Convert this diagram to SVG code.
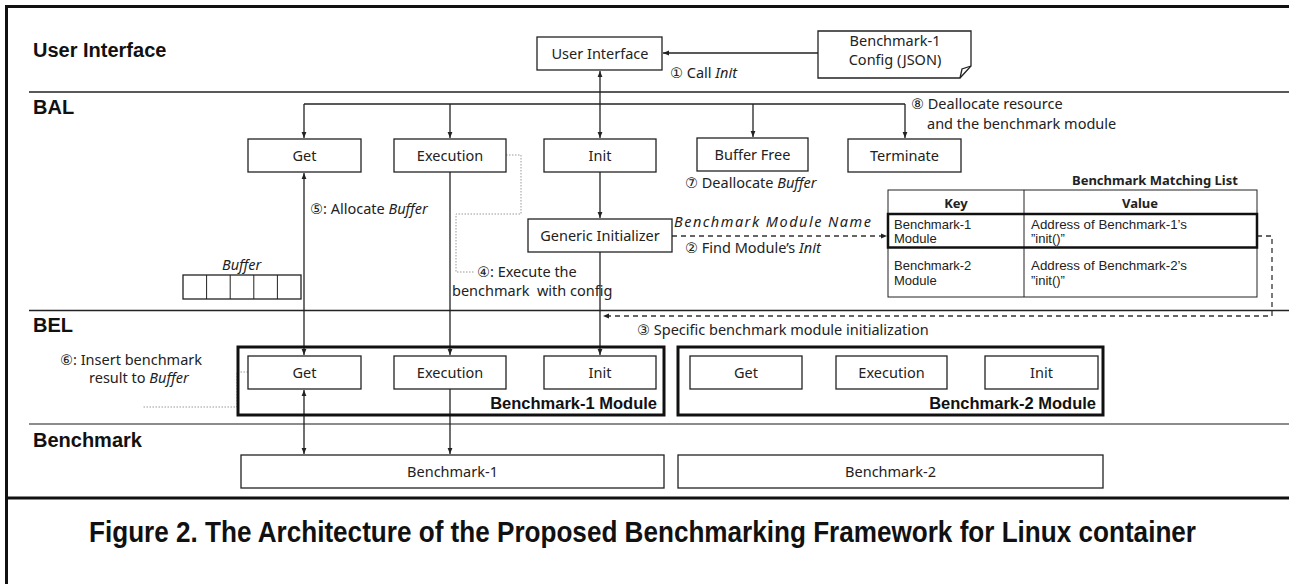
<svg xmlns="http://www.w3.org/2000/svg" width="1289" height="584" viewBox="0 0 1289 584">
<style>
.box{fill:#fff;stroke:#222;stroke-width:1.3}
.mod{fill:none;stroke:#111;stroke-width:3}
.t{font-family:'Noto Sans','DejaVu Sans',sans-serif;font-size:14.5px;fill:#222}
.s{font-size:13px}
.tb{font-family:'Liberation Sans',Arial,sans-serif;font-size:13px;fill:#222}
.c{text-anchor:middle}
.i{font-style:italic}
.b{font-weight:bold}
.sec{font-family:'Liberation Sans',Arial,sans-serif;font-weight:bold;font-size:20px;fill:#111}
.mt{font-family:'Liberation Sans',Arial,sans-serif;font-weight:bold;font-size:16.5px;fill:#111;text-anchor:end}
.conn{fill:none;stroke:#222;stroke-width:1.3}
.dash{fill:none;stroke:#333;stroke-width:1.3;stroke-dasharray:5 4}
.dot{fill:none;stroke:#999;stroke-width:1;stroke-dasharray:1.5 1.5}
.sep{stroke:#222;stroke-width:1.3}
</style>
<defs>
<marker id="ah" viewBox="0 0 10 10" refX="10" refY="5" markerWidth="6" markerHeight="6" markerUnits="userSpaceOnUse" orient="auto-start-reverse"><path d="M0,1 L10,5 L0,9 Z" fill="#222"/></marker>
</defs>
<rect x="0" y="0" width="1289" height="584" fill="#fff"/>
<g id="frame">
<line x1="6.5" y1="5" x2="6.5" y2="584" stroke="#111" stroke-width="3"/>
<line x1="5" y1="6.5" x2="1289" y2="6.5" stroke="#111" stroke-width="3"/>
<line x1="5" y1="498" x2="1289" y2="498" stroke="#111" stroke-width="3"/>
<line x1="29" y1="92" x2="1289" y2="92" class="sep"/>
<line x1="29" y1="310.5" x2="1289" y2="310.5" class="sep"/>
<line x1="29" y1="424" x2="1289" y2="424" stroke="#666" stroke-width="1.5"/>
</g>
<g id="layer-labels">
<text class="sec" x="33" y="57">User Interface</text>
<text class="sec" x="33" y="114">BAL</text>
<text class="sec" x="33" y="332">BEL</text>
<text class="sec" x="33" y="447">Benchmark</text>
</g>
<g id="connectors">
<path class="conn" d="M818,53 H663" marker-end="url(#ah)"/>
<path class="conn" d="M600,71 V104" stroke-width="2" marker-start="url(#ah)"/>
<path class="conn" d="M304,104 H905"/>
<path class="conn" d="M304,104 V138" marker-end="url(#ah)"/>
<path class="conn" d="M450,104 V138" marker-end="url(#ah)"/>
<path class="conn" d="M600,104 V138" marker-end="url(#ah)"/>
<path class="conn" d="M753,104 V137" marker-end="url(#ah)"/>
<path class="conn" d="M905,104 V138" marker-end="url(#ah)"/>
<path class="conn" d="M600,172 V218" marker-end="url(#ah)"/>
<path class="conn" d="M600,252 V355" marker-end="url(#ah)"/>
<path class="conn" d="M450,172 V355" marker-end="url(#ah)"/>
<path class="conn" d="M304,173 V355" marker-start="url(#ah)" marker-end="url(#ah)"/>
<path class="conn" d="M304,390 V454" marker-start="url(#ah)" marker-end="url(#ah)"/>
<path class="conn" d="M450,389 V454" marker-end="url(#ah)"/>
<path class="dash" d="M672,236 H887" marker-end="url(#ah)"/>
<path class="dash" d="M1257,236 H1272 V316 H603" marker-end="url(#ah)"/>
<path class="dot" d="M506,155 H521 V214 H456 V272 H474"/>
<path class="dot" d="M248,372 H237 V407 H142"/>
</g>
<g id="ui">
<rect class="box" x="537" y="37" width="125" height="33"/>
<text class="t c" x="600" y="59">User Interface</text>
</g>
<g id="config">
<path class="box" d="M818,31 H971 V66 L960,78 H818 Z"/>
<path class="conn" d="M960,78 L962,69 L971,66"/>
<text class="t c" x="895" y="46">Benchmark-1</text>
<text class="t c" x="895" y="65">Config (JSON)</text>
</g>
<g id="bal-get"><rect class="box" x="248" y="139" width="113" height="33"/><text class="t c" x="304.5" y="161">Get</text></g>
<g id="bal-exec"><rect class="box" x="394" y="139" width="112" height="33"/><text class="t c" x="450" y="161">Execution</text></g>
<g id="bal-init"><rect class="box" x="544" y="139" width="112" height="33"/><text class="t c" x="600" y="161">Init</text></g>
<g id="bal-free"><rect class="box" x="697" y="138" width="111" height="33"/><text class="t c" x="752.5" y="160">Buffer Free</text></g>
<g id="bal-term"><rect class="box" x="848" y="139" width="113" height="33"/><text class="t c" x="904.5" y="161">Terminate</text></g>
<g id="generic-init"><rect class="box" x="528" y="219" width="144" height="33"/><text class="t c" x="600" y="241">Generic Initializer</text></g>
<g id="buffer">
<text class="t i" x="222" y="270">Buffer</text>
<rect class="box" x="183" y="275" width="118" height="24" stroke-width="1"/>
<path d="M206.6,275 V299 M230.2,275 V299 M253.8,275 V299 M277.4,275 V299" stroke="#222" stroke-width="1"/>
</g>
<g id="matching-list">
<text class="t b s" x="1072" y="185">Benchmark Matching List</text>
<rect x="888" y="190" width="369" height="107" fill="#fff" stroke="#222" stroke-width="1"/>
<path d="M888,214 H1257 M1024,190 V297" stroke="#222" stroke-width="1"/>
<rect x="888" y="214" width="369" height="33.5" fill="none" stroke="#111" stroke-width="2.5"/>
<text class="t b s c" x="956" y="208">Key</text>
<text class="t b s c" x="1140" y="208">Value</text>
<text class="tb" x="894" y="228.5">Benchmark-1</text>
<text class="tb" x="894" y="243">Module</text>
<text class="tb" x="1031" y="228.5" textLength="156" lengthAdjust="spacingAndGlyphs">Address of Benchmark-1’s</text>
<text class="tb" x="1031" y="243">”init()”</text>
<text class="tb" x="894" y="270">Benchmark-2</text>
<text class="tb" x="894" y="285">Module</text>
<text class="tb" x="1031" y="270" textLength="156" lengthAdjust="spacingAndGlyphs">Address of Benchmark-2’s</text>
<text class="tb" x="1031" y="285">”init()”</text>
</g>
<g id="labels">
<text class="t" x="670" y="78">① Call <tspan class="i">Init</tspan></text>
<text class="t" x="911" y="109" font-size="14">⑧ Deallocate resource</text>
<text class="t" x="927" y="129" font-size="14">and the benchmark module</text>
<text class="t" x="685" y="188">⑦ Deallocate <tspan class="i">Buffer</tspan></text>
<text class="t i" x="674" y="227" font-size="15.5" textLength="197" lengthAdjust="spacing">Benchmark Module Name</text>
<text class="t" x="685" y="253">② Find Module’s <tspan class="i">Init</tspan></text>
<text class="t" x="310" y="214">⑤: Allocate <tspan class="i">Buffer</tspan></text>
<text class="t" x="477" y="277">④: Execute the</text>
<text class="t" x="452" y="296" style="white-space:pre">benchmark  with config</text>
<text class="t" x="637" y="335">③ Specific benchmark module initialization</text>
<text class="t" x="60" y="365">⑥: Insert benchmark</text>
<text class="t" x="89" y="383">result to <tspan class="i">Buffer</tspan></text>
</g>
<g id="bench1-module">
<rect class="mod" x="238" y="347" width="426" height="68"/>
<rect class="box" x="248" y="356" width="113" height="33"/><text class="t c" x="304.5" y="378">Get</text>
<rect class="box" x="394" y="356" width="112" height="33"/><text class="t c" x="450" y="378">Execution</text>
<rect class="box" x="544" y="356" width="112" height="33"/><text class="t c" x="600" y="378">Init</text>
<text class="mt" x="657" y="409">Benchmark-1 Module</text>
</g>
<g id="bench2-module">
<rect class="mod" x="678" y="347" width="425" height="68"/>
<rect class="box" x="690" y="356" width="112" height="33"/><text class="t c" x="746" y="378">Get</text>
<rect class="box" x="836" y="356" width="111" height="33"/><text class="t c" x="891.5" y="378">Execution</text>
<rect class="box" x="985" y="356" width="113" height="33"/><text class="t c" x="1041.5" y="378">Init</text>
<text class="mt" x="1096" y="409">Benchmark-2 Module</text>
</g>
<g id="benchmark-1"><rect class="box" x="241" y="455" width="423" height="33"/><text class="t c" x="452.5" y="477">Benchmark-1</text></g>
<g id="benchmark-2"><rect class="box" x="678" y="455" width="425" height="33"/><text class="t c" x="890.5" y="477">Benchmark-2</text></g>
<g id="caption">
<text transform="translate(89,542) scale(1,1.25)" x="0" y="0" font-family="'Liberation Sans',Arial,sans-serif" font-weight="bold" font-size="23.5" fill="#111" textLength="1107" lengthAdjust="spacingAndGlyphs">Figure 2. The Architecture of the Proposed Benchmarking Framework for Linux container</text>
</g>
</svg>
